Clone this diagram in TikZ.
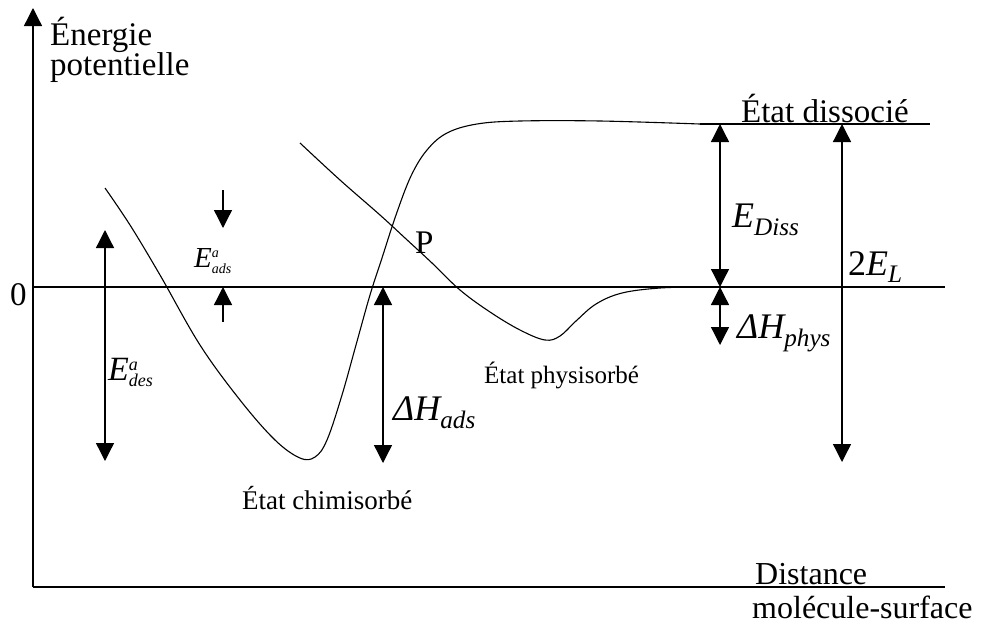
\documentclass[tikz,border=0pt]{standalone}
\usepackage{fontspec}
\setmainfont{Liberation Serif}
\usetikzlibrary{positioning,arrows.meta}

\tikzset{
  axe/.style={line width=1.3pt},
  courbe/.style={line width=1.1pt},
  fleche/.style={
    line width=1.3pt,
    -{Triangle[length=18pt,width=18pt]}
  },
  doublefleche/.style={
    line width=1.3pt,
    {Triangle[length=18pt,width=18pt]}-{Triangle[length=18pt,width=18pt]}
  },
  etiquette/.style={
    inner sep=0pt,
    anchor=base west,
    font=\fontsize{33}{36}\selectfont
  },
  etat/.style={
    inner sep=0pt,
    anchor=base west,
    font=\fontsize{#1}{#1}\selectfont
  },
  grandeur/.style={
    inner sep=0pt,
    anchor=base west,
    font=\fontsize{36}{40}\selectfont\itshape
  }
}

\begin{document}
\begin{tikzpicture}[x=1pt,y=-1pt]
  \useasboundingbox (0,0) rectangle (987,627);

  % Axes
  \coordinate (origine) at (33,587);
  \coordinate (haut) at (33,8);
  \coordinate (droite) at (945,587);
  \coordinate (zero) at (33,287);
  \coordinate (zerofin) at (945,287);
  \coordinate (dissdeb) at (700,124);
  \coordinate (dissfin) at (930,124);

  \draw[fleche] (origine) -- (haut);
  \draw[axe] (origine) -- (droite);
  \draw[axe] (zero) -- (zerofin);
  \draw[axe] (dissdeb) -- (dissfin);

  % Chimisorption
  \draw[courbe] plot[smooth, tension=0.6] coordinates {
    (105,188) (130,225) (160,275) (200,345) (240,400) (275,440)
    (300,458) (315,457) (327,440) (342,395) (356,345) (370,295)
    (382,258) (396,215) (411,176) (427,150) (447,133) (477,124)
    (520,121) (600,121) (700,124)
  };

  % Physisorption
  \draw[courbe] plot[smooth, tension=0.6] coordinates {
    (300,143) (340,180) (380,215) (405,238) (432,263) (460,290)
    (490,312) (520,330) (545,340) (560,336) (576,321) (596,304)
    (622,293) (660,288) (700,287)
  };

  % Fleches
  \coordinate (eadshaut) at (223,190);
  \coordinate (eadsbout) at (223,228);
  \coordinate (eadsbas) at (223,322);
  \coordinate (zeroads) at (223,287);
  \draw[fleche] (eadshaut) -- (eadsbout);
  \draw[fleche] (eadsbas) -- (zeroads);

  \coordinate (edeshaut) at (105,230);
  \coordinate (edesbas) at (105,461);
  \draw[doublefleche] (edeshaut) -- (edesbas);

  \coordinate (hadshaut) at (383,287);
  \coordinate (hadsbas) at (383,463);
  \draw[doublefleche] (hadshaut) -- (hadsbas);

  \coordinate (edisshaut) at (720,124);
  \coordinate (edissbas) at (720,287);
  \coordinate (hphysbas) at (720,345);
  \draw[doublefleche] (edisshaut) -- (edissbas);
  \draw[doublefleche] (edissbas) -- (hphysbas);

  \coordinate (elhaut) at (842,124);
  \coordinate (elbas) at (842,462);
  \draw[doublefleche] (elhaut) -- (elbas);

  % Textes
  \node[etiquette] (energie) at (50,45) {Énergie};
  \node[etiquette] (potentielle) at (50,75) {potentielle};
  \node[etiquette] (nul) at (10,305) {0};
  \node[etiquette] (p) at (415,253) {P};
  \node[etiquette, anchor=base] (dissocie) at (825,122) {État dissocié};
  \node[etat=27] (chimi) at (242,509) {État chimisorbé};
  \node[etat=25] (physi) at (484,383) {État physisorbé};
  \node[etiquette, font=\fontsize{32}{36}\selectfont] (distance) at (755,584) {Distance};
  \node[etiquette, font=\fontsize{32}{36}\selectfont] (molecule) at (752,618) {molécule-surface};

  \node[grandeur, font=\fontsize{29}{32}\selectfont\itshape] (eads) at (194,267)
    {E$^{\textit{\fontsize{14}{14}\selectfont a}}_{\textit{\fontsize{14}{14}\selectfont ads}}$};
  \node[grandeur, font=\fontsize{34}{38}\selectfont\itshape] (edes) at (108,380)
    {E$^{\textit{\fontsize{18}{18}\selectfont a}}_{\textit{\fontsize{18}{18}\selectfont des}}$};
  \node[grandeur] (hads) at (393,420) {ΔH\textsubscript{ads}};
  \node[grandeur] (ediss) at (732,227) {E\textsubscript{Diss}};
  \node[grandeur] (hphys) at (737,338) {ΔH\textsubscript{phys}};
  \node[grandeur, font=\fontsize{36}{40}\selectfont] (el) at (848,275) {2\textit{E}\textsubscript{\textit{L}}};
\end{tikzpicture}
\end{document}
